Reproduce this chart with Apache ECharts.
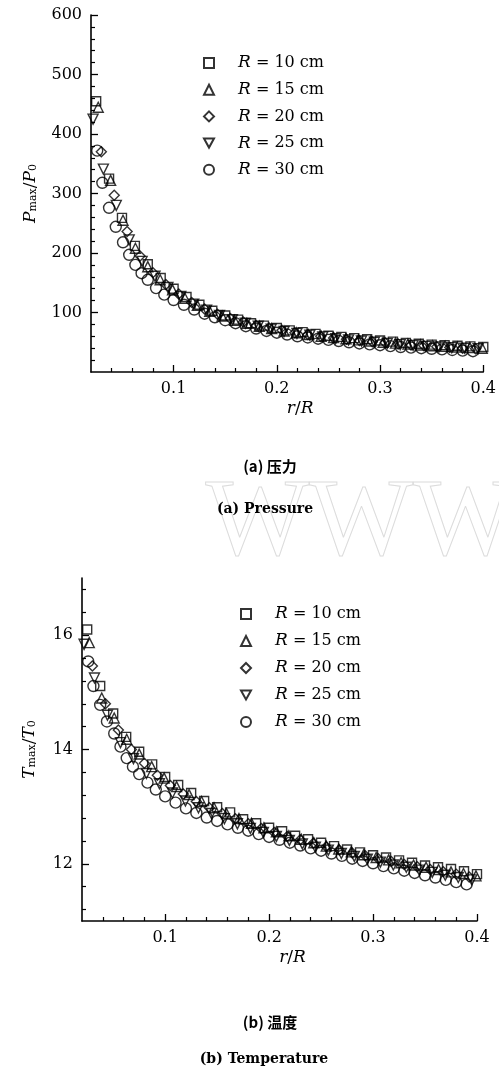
<!DOCTYPE html>
<html lang="en">
<head>
<meta charset="utf-8">
<title>Pmax / Tmax vs r/R</title>
<style>
  html, body { margin: 0; padding: 0; background: #fff; }
  #main { width: 499px; height: 1073px; }
</style>
</head>
<body>
<div id="main"></div>
<script src="https://cdn.jsdelivr.net/npm/echarts@6/dist/echarts.min.js"></script>
<script>
// series names / symbols
var names = ['R = 10 cm', 'R = 15 cm', 'R = 20 cm', 'R = 25 cm', 'R = 30 cm'];
var symbols = ['rect', 'triangle', 'diamond', 'triangle', 'circle'];
var symRotate = [0, 0, 0, 180, 0];
var symSize = [9, 10, 10, 10, 11];

// r/R sample positions of each series
var xR10 = [0.025,0.0375,0.05,0.0625,0.075,0.0875,0.1,0.1125,0.125,0.1375,0.15,0.1625,0.175,0.1875,0.2,0.2125,0.225,0.2375,0.25,0.2625,0.275,0.2875,0.3,0.3125,0.325,0.3375,0.35,0.3625,0.375,0.3875,0.4];
var xR15 = [0.027,0.039,0.051,0.063,0.075,0.087,0.099,0.111,0.123,0.135,0.147,0.159,0.171,0.183,0.195,0.207,0.219,0.231,0.243,0.255,0.267,0.279,0.291,0.303,0.315,0.327,0.339,0.351,0.363,0.375,0.387,0.399];
var xR20 = [0.03,0.0425,0.055,0.0675,0.08,0.0925,0.105,0.1175,0.13,0.1425,0.155,0.1675,0.18,0.1925,0.205,0.2175,0.23,0.2425,0.255,0.2675,0.28,0.2925,0.305,0.3175,0.33,0.3425,0.355,0.3675,0.38,0.3925];
var xR25 = [0.022,0.032,0.0445,0.057,0.0695,0.082,0.0945,0.107,0.1195,0.132,0.1445,0.157,0.1695,0.182,0.1945,0.207,0.2195,0.232,0.2445,0.257,0.2695,0.282,0.2945,0.307,0.3195,0.332,0.3445,0.357,0.3695,0.382,0.395];
var xR30 = [0.026,0.031,0.0375,0.044,0.051,0.057,0.063,0.069,0.075,0.083,0.091,0.1,0.11,0.12,0.13,0.14,0.15,0.16,0.17,0.18,0.19,0.2,0.21,0.22,0.23,0.24,0.25,0.26,0.27,0.28,0.29,0.3,0.31,0.32,0.33,0.34,0.35,0.36,0.37,0.38,0.39];

// (a) Pmax/P0
var pR10 = [455,325,259,212,181,158,140,126,113,103,95,88,82,78,74,70,67,64,61,59,57,55,53,51,49,47.5,46,45,44,43,42];
var pR15 = [445,322,255,208,177,155,138,124,112,102,94,87,82,77,73,69,66,63,60,58,56,54,52,50,48.5,47,45.5,44,43,42,41,40];
var pR20 = [370,297,236,195,167,147,131,117,106,97,90,84,78,74,70,66,63,60,57,55,53,51,49,47,45.5,44,42.5,41,40,39];
var pR25 = [425,341,280,222,186,161,142,127,114,104,95,88,82,77,72,68,65,62,59,56,54,52,50,48,46,44.5,43,42,41,40,39];
var pR30 = [372,318,276,244,218,197,180,166,155,141,130,121,113,105,98,92,87,82,77,73,69,66,63,60,58,56,54,52,50,48,46.5,45,43.5,42,41,40,39,38,37,36,35];

// (b) Tmax/T0
var tR10 = [16.10,15.11,14.63,14.22,13.96,13.74,13.52,13.38,13.24,13.10,12.99,12.90,12.78,12.71,12.63,12.57,12.49,12.43,12.37,12.31,12.25,12.20,12.15,12.11,12.06,12.02,11.97,11.94,11.91,11.87,11.82];
var tR15 = [15.87,14.90,14.55,14.18,13.92,13.70,13.50,13.35,13.21,13.09,12.98,12.88,12.79,12.71,12.63,12.56,12.49,12.43,12.37,12.31,12.26,12.21,12.16,12.11,12.07,12.02,11.98,11.94,11.90,11.86,11.83,11.79];
var tR20 = [15.46,14.80,14.34,14.00,13.76,13.55,13.37,13.22,13.09,12.98,12.88,12.79,12.70,12.62,12.55,12.48,12.42,12.36,12.30,12.24,12.19,12.14,12.09,12.04,11.99,11.95,11.90,11.86,11.82,11.77];
var tR25 = [15.84,15.25,14.60,14.12,13.84,13.58,13.40,13.24,13.10,12.98,12.88,12.79,12.70,12.62,12.55,12.48,12.41,12.35,12.29,12.24,12.18,12.13,12.08,12.03,11.98,11.94,11.89,11.85,11.80,11.76,11.72];
var tR30 = [15.54,15.11,14.78,14.49,14.28,14.05,13.85,13.70,13.57,13.42,13.30,13.18,13.07,12.97,12.89,12.81,12.75,12.69,12.63,12.58,12.52,12.47,12.42,12.37,12.32,12.27,12.23,12.18,12.14,12.09,12.05,12.01,11.96,11.92,11.88,11.84,11.80,11.76,11.72,11.68,11.64];

// tick values
var xLabels = [0.1, 0.2, 0.3, 0.4];
var xMinor = [0.04,0.06,0.08,0.12,0.14,0.16,0.18,0.22,0.24,0.26,0.28,0.32,0.34,0.36,0.38];
var pLabels = [100, 200, 300, 400, 500, 600];
var pMinor = [20,40,60,80,120,140,160,180,220,240,260,280,320,340,360,380,420,440,460,480,520,540,560,580];
var tLabels = [12, 14, 16];
var tMinor = [11.2,11.6,12.4,12.8,13.2,13.6,14.4,14.8,15.2,15.6,16.4,16.8];

var xs = [xR10, xR15, xR20, xR25, xR30];
var ps = [pR10, pR15, pR20, pR25, pR30];
var ts = [tR10, tR15, tR20, tR25, tR30];

var FONT = "'DejaVu Serif', serif";
var CJK = "'Noto Sans CJK SC', sans-serif";

function pairs(a, b) {
    return a.map(function (v, i) { return [v, b[i]]; });
}

function mainAxis(grid, min, max, pos, labels) {
    return {
        type: 'value', gridIndex: grid, min: min, max: max, position: pos,
        axisLine: { show: true, onZero: false, lineStyle: { color: '#000', width: 1.6 } },
        axisTick: { show: true, inside: true, length: 7, customValues: labels,
                    lineStyle: { color: '#000', width: 1.3 } },
        axisLabel: { customValues: labels, color: '#000', fontFamily: FONT, fontSize: 16, margin: 9 },
        splitLine: { show: false }
    };
}
function minorAxis(grid, min, max, pos, ticks) {
    return {
        type: 'value', gridIndex: grid, min: min, max: max, position: pos,
        axisLine: { show: false, onZero: false },
        axisTick: { show: true, inside: true, length: 4, customValues: ticks,
                    lineStyle: { color: '#000', width: 1.2 } },
        axisLabel: { show: false },
        splitLine: { show: false }
    };
}

var series = [];
for (var i = 0; i < 5; i++) {
    var base = {
        type: 'scatter', name: names[i], symbol: symbols[i], symbolRotate: symRotate[i],
        symbolSize: symSize[i],
        itemStyle: { color: 'rgba(255,255,255,0)', borderColor: '#000', borderWidth: 1.4 },
        emphasis: { disabled: true }
    };
    series.push(Object.assign({}, base, { xAxisIndex: 0, yAxisIndex: 0, data: pairs(xs[i], ps[i]) }));
    series.push(Object.assign({}, base, { xAxisIndex: 2, yAxisIndex: 2, data: pairs(xs[i], ts[i]) }));
}

// legend items; the 25 cm marker is a downward triangle
var legendData = names.map(function (n, k) {
    return k === 3 ? { name: n, icon: 'path://M0,0L10,0L5,9Z' } : { name: n };
});

var legendText = {
    fontFamily: FONT, fontSize: 16, color: '#000', lineHeight: 20,
    rich: { i: { fontFamily: FONT, fontStyle: 'italic', fontSize: 17, color: '#000', padding: [0, 0, 0, 19] } }
};
function legendFmt(n) { return '{i|R}' + n.slice(1); }

var nameRich = {
    i: { fontFamily: FONT, fontStyle: 'italic', fontSize: 17, color: '#000' },
    s: { fontFamily: FONT, fontSize: 11, color: '#000', verticalAlign: 'bottom' },
    n: { fontFamily: FONT, fontSize: 17, color: '#000' }
};

var chart = echarts.init(document.getElementById('main'));
chart.setOption({
    animation: false,
    backgroundColor: '#fff',
    grid: [
        { left: 91, top: 15, width: 394, height: 357 },
        { left: 82, top: 578, width: 395, height: 343 }
    ],
    xAxis: [
        Object.assign(mainAxis(0, 0.02, 0.4, 'bottom', xLabels), {
            name: '{i|r}{n|/}{i|R}', nameLocation: 'middle', nameGap: 28,
            nameTextStyle: { rich: nameRich, padding: [0, 0, 0, 26] }
        }),
        minorAxis(0, 0.02, 0.4, 'bottom', xMinor),
        Object.assign(mainAxis(1, 0.02, 0.4, 'bottom', xLabels), {
            name: '{i|r}{n|/}{i|R}', nameLocation: 'middle', nameGap: 28,
            nameTextStyle: { rich: nameRich, padding: [0, 0, 0, 26] }
        }),
        minorAxis(1, 0.02, 0.4, 'bottom', xMinor)
    ],
    yAxis: [
        Object.assign(mainAxis(0, 0, 600, 'left', pLabels), {
            name: '{i|P}{s|max}{n|/}{i|P}{s|0}', nameLocation: 'middle', nameGap: 52,
            nameTextStyle: { rich: nameRich }
        }),
        minorAxis(0, 0, 600, 'left', pMinor),
        Object.assign(mainAxis(1, 11, 17, 'left', tLabels), {
            name: '{i|T}{s|max}{n|/}{i|T}{s|0}', nameLocation: 'middle', nameGap: 44,
            nameTextStyle: { rich: nameRich }
        }),
        minorAxis(1, 11, 17, 'left', tMinor)
    ],
    legend: [
        { data: legendData, orient: 'vertical', left: 198, top: 48, itemWidth: 10, itemHeight: 10,
          itemGap: 6.7, selectedMode: false, textStyle: legendText, formatter: legendFmt },
        { data: legendData, orient: 'vertical', left: 235, top: 599, itemWidth: 10, itemHeight: 10,
          itemGap: 7, selectedMode: false, textStyle: legendText, formatter: legendFmt }
    ],
    graphic: [
        { type: 'text', left: 205, top: 470, silent: true, z: -1,
          style: { text: 'WWW', font: "110px 'Liberation Serif', serif", fill: 'rgba(0,0,0,0)',
                   stroke: '#dcdcdc', lineWidth: 1 } },
        { type: 'text', x: 270, y: 466, silent: true,
          style: { text: '(a) 压力', font: "bold 15px " + CJK, fill: '#000', align: 'center', verticalAlign: 'middle' } },
        { type: 'text', x: 265, y: 509, silent: true,
          style: { text: '(a) Pressure', font: "bold 14px " + FONT, fill: '#000', align: 'center', verticalAlign: 'middle' } },
        { type: 'text', x: 270, y: 1022, silent: true,
          style: { text: '(b) 温度', font: "bold 15px " + CJK, fill: '#000', align: 'center', verticalAlign: 'middle' } },
        { type: 'text', x: 264, y: 1059, silent: true,
          style: { text: '(b) Temperature', font: "bold 14px " + FONT, fill: '#000', align: 'center', verticalAlign: 'middle' } }
    ],
    series: series
});
</script>
</body>
</html>
